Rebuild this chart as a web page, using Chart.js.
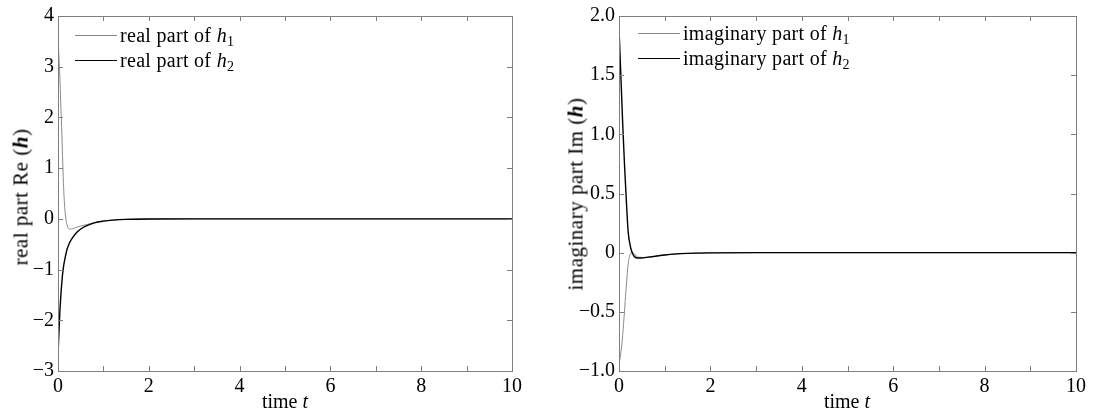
<!DOCTYPE html>
<html>
<head>
<meta charset="utf-8">
<script src="https://cdn.jsdelivr.net/npm/chart.js@4/dist/chart.umd.min.js"></script>
<style>
  body { margin: 0; background: #fff; font-family: "Liberation Serif", "DejaVu Serif", serif; }
  .panel { position: absolute; top: 0; width: 549px; height: 415px; }
  .panel canvas { position: absolute; left: 0; top: 0; }
  .lbl { position: absolute; font-size: 20px; color: #000; white-space: nowrap; line-height: 1; }
  .ytitle { transform: translate(-50%, -50%) rotate(-90deg); font-size: 21px; letter-spacing: 0.5px; }
  .xtitle { transform: translate(-50%, -50%); }
  .legend { position: absolute; font-size: 20px; line-height: 1; }
  .legend .row { position: relative; height: 25px; white-space: nowrap; }
  .legend .swatch { position: absolute; left: 0; top: 10px; width: 42px; }
  .legend .txt { position: absolute; left: 45px; top: 0; letter-spacing: 0.3px; }
  sub { font-size: 14px; vertical-align: -4px; }
</style>
</head>
<body>
<div class="panel" style="left:0">
  <canvas id="re" width="549" height="415"></canvas>
  <div class="lbl ytitle" style="left:21px; top:197px">real part Re (<b><i>h</i></b>)</div>
  <div class="lbl xtitle" style="left:285px; top:401px">time <i>t</i></div>
  <div class="legend" style="left:75px; top:25px">
    <div class="row"><div class="swatch" style="border-top:1px solid #888"></div><div class="txt">real part of <i>h</i><sub>1</sub></div></div>
    <div class="row"><div class="swatch" style="border-top:1.5px solid #000"></div><div class="txt">real part of <i>h</i><sub>2</sub></div></div>
  </div>
</div>
<div class="panel" style="left:549px">
  <canvas id="im" width="549" height="415"></canvas>
  <div class="lbl ytitle" style="left:27px; top:194px">imaginary part Im (<b><i>h</i></b>)</div>
  <div class="lbl xtitle" style="left:298px; top:401px">time <i>t</i></div>
  <div class="legend" style="left:89px; top:23px">
    <div class="row"><div class="swatch" style="border-top:1px solid #888"></div><div class="txt">imaginary part of <i>h</i><sub>1</sub></div></div>
    <div class="row"><div class="swatch" style="border-top:1.5px solid #000"></div><div class="txt">imaginary part of <i>h</i><sub>2</sub></div></div>
  </div>
</div>
<script>
// sample times
const time = [0, 0.02, 0.04, 0.06, 0.08, 0.1, 0.12, 0.15, 0.2, 0.25, 0.3, 0.4, 0.5, 0.6, 0.8, 1, 1.2, 1.5, 2, 3, 5, 10];

// real parts
const reH1 = [3.6, 3.2, 2.8, 2.3, 1.8, 1.25, 0.7, 0.2, -0.12, -0.2, -0.2, -0.17, -0.14, -0.12, -0.075, -0.043, -0.025, -0.01, -0.002, 0, 0, 0];
const reH2 = [-2.7, -2.25, -1.85, -1.55, -1.3, -1.1, -0.95, -0.8, -0.6, -0.48, -0.4, -0.28, -0.2, -0.15, -0.08, -0.045, -0.025, -0.01, -0.002, 0, 0, 0];

// imaginary parts
const imH1 = [-0.95, -0.9, -0.85, -0.78, -0.7, -0.6, -0.5, -0.33, -0.1, -0.01, 0.0, -0.035, -0.04, -0.04, -0.03, -0.02, -0.012, -0.006, -0.002, 0, 0, 0];
const imH2 = [1.9, 1.7, 1.5, 1.3, 1.1, 0.92, 0.75, 0.52, 0.18, 0.05, -0.01, -0.045, -0.045, -0.04, -0.03, -0.02, -0.012, -0.006, -0.002, 0, 0, 0];

const font = { family: '"Liberation Serif", serif', size: 20 };
const boxColor = '#7f7f7f';

function minus(v) {
  return v < 0 ? '\u2212' + (-v) : '' + v;
}

function pts(ys) {
  return time.map((t, i) => ({ x: t, y: ys[i] }));
}

// MATLAB-style box with inward ticks on all four sides
const boxTicks = {
  id: 'boxTicks',
  afterDraw(chart) {
    const { ctx, chartArea: a, scales: { x, y } } = chart;
    ctx.save();
    ctx.strokeStyle = boxColor;
    ctx.lineWidth = 1;
    ctx.strokeRect(Math.round(a.left) + 0.5, Math.round(a.top) + 0.5,
      Math.round(a.right - a.left), Math.round(a.bottom - a.top));
    ctx.beginPath();
    x.ticks.forEach(t => {
      const px = Math.round(x.getPixelForValue(t.value)) + 0.5;
      ctx.moveTo(px, a.bottom); ctx.lineTo(px, a.bottom - 5);
      ctx.moveTo(px, a.top); ctx.lineTo(px, a.top + 5);
    });
    y.ticks.forEach(t => {
      const py = Math.round(y.getPixelForValue(t.value)) + 0.5;
      ctx.moveTo(a.left, py); ctx.lineTo(a.left + 5, py);
      ctx.moveTo(a.right, py); ctx.lineTo(a.right - 5, py);
    });
    ctx.stroke();
    ctx.restore();
  }
};

function makeChart(id, h1, h2, yMin, yMax, yStep, yFmt, padRight, yWidth) {
  new Chart(document.getElementById(id), {
    type: 'line',
    data: {
      datasets: [
        { data: pts(h2), borderColor: '#000', borderWidth: 1.4, pointRadius: 0, cubicInterpolationMode: 'monotone', order: 0 },
        { data: pts(h1), borderColor: '#8a8a8a', borderWidth: 1, pointRadius: 0, cubicInterpolationMode: 'monotone', order: 1 }
      ]
    },
    options: {
      responsive: false,
      animation: false,
      layout: { padding: { top: 14, right: padRight, left: 0, bottom: 0 } },
      plugins: { legend: { display: false }, tooltip: { enabled: false } },
      scales: {
        x: {
          type: 'linear', min: 0, max: 10,
          grid: { display: false, drawTicks: false },
          border: { display: false },
          ticks: {
            stepSize: 1, autoSkip: false, maxRotation: 0, padding: 4,
            color: '#000', font: font,
            callback: v => (v % 2 === 0 ? '' + v : '')
          },
          afterFit: s => { s.height = 44; }
        },
        y: {
          min: yMin, max: yMax,
          grid: { display: false, drawTicks: false },
          border: { display: false },
          ticks: { stepSize: yStep, padding: 4, color: '#000', font: font, callback: yFmt },
          afterFit: s => { s.width = yWidth; }
        }
      }
    },
    plugins: [boxTicks]
  });
}

makeChart('re', reH1, reH2, -3, 4, 1, v => minus(v), 37, 58);
makeChart('im', imH1, imH2, -1, 2, 0.5,
  v => (v === 0 ? '0' : (v < 0 ? '\u2212' : '') + Math.abs(v).toFixed(1)), 22, 70);
</script>
</body>
</html>
